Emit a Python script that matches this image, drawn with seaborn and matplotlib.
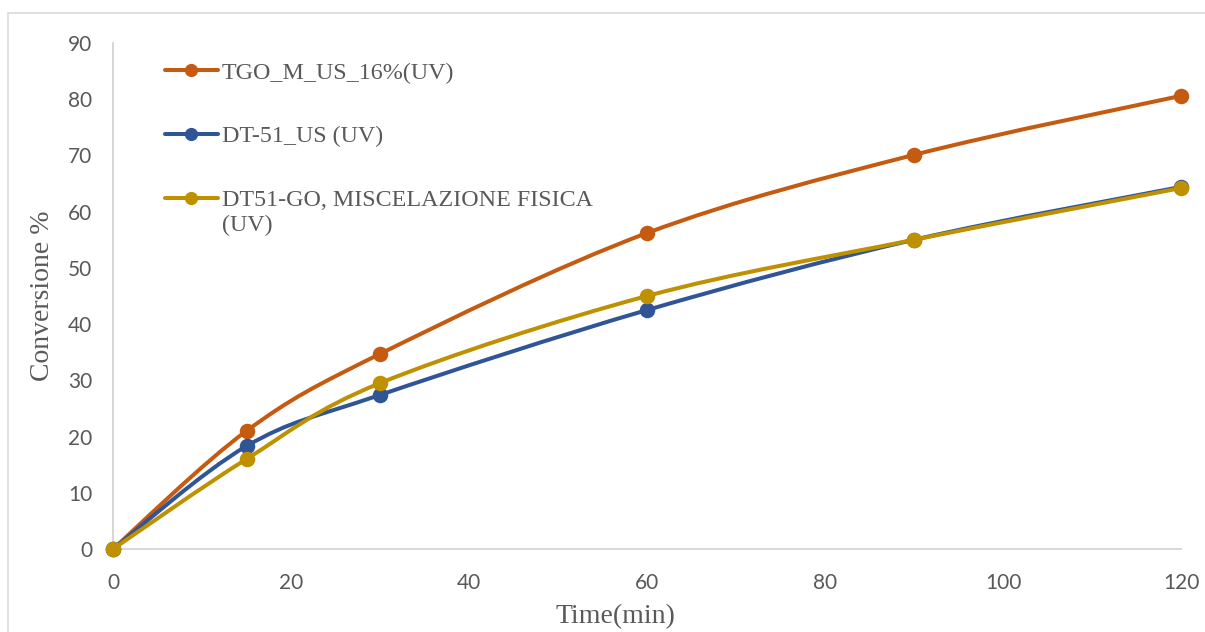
import numpy as np
import pandas as pd
import matplotlib
matplotlib.use("Agg")
import matplotlib.pyplot as plt
from matplotlib.path import Path
from matplotlib.patches import PathPatch, Rectangle
from matplotlib.lines import Line2D
import seaborn as sns

# Conversion (%) over irradiation time (min)
time_min = [0, 15, 30, 60, 90, 120]
tgo_m_us = [0, 21.0, 34.7, 56.2, 70.1, 80.6]
dt51_us = [0, 18.3, 27.4, 42.5, 55.0, 64.4]
dt51_go_mix = [0, 16.0, 29.5, 45.0, 55.0, 64.2]

series_names = ["TGO_M_US_16%(UV)", "DT-51_US (UV)", "DT51-GO, MISCELAZIONE FISICA"]
series_values = [tgo_m_us, dt51_us, dt51_go_mix]
colors = ["#C55A11", "#2F5597", "#BF9000"]

x_ticks = [0, 20, 40, 60, 80, 100, 120]
y_ticks = [0, 10, 20, 30, 40, 50, 60, 70, 80, 90]

df = pd.DataFrame({
    "time": np.tile(time_min, len(series_names)),
    "conv": np.concatenate(series_values),
    "series": np.repeat(series_names, len(time_min)),
})

sns.set_theme(style="white")
plt.rcParams["font.family"] = ["Liberation Serif", "DejaVu Serif"]

W, H = 1205, 632
fig = plt.figure(figsize=(W / 100, H / 100), dpi=100)
ax = fig.add_axes([113 / W, 1 - 549 / H, (1181 - 113) / W, (549 - 43) / H])

# light outer frame of the chart area
fig.patches.append(Rectangle((8 / W, -0.1), 1.2, 1.1 - 13 / H, transform=fig.transFigure,
                             fill=False, edgecolor="#D9D9D9", lw=1.2, zorder=0))


def smooth_path(xs, ys):
    """Cubic Bezier path through the points (Catmull-Rom style smoothing)."""
    pts = np.column_stack([xs, ys]).astype(float)
    n = len(pts)
    verts = [pts[0]]
    codes = [Path.MOVETO]
    for i in range(n - 1):
        p0 = pts[i - 1] if i > 0 else pts[i]
        p1, p2 = pts[i], pts[i + 1]
        p3 = pts[i + 2] if i + 2 < n else pts[i + 1]
        c1 = p1 + (p2 - p0) / 6.0
        c2 = p2 - (p3 - p1) / 6.0
        verts += [c1, c2, p2]
        codes += [Path.CURVE4] * 3
    return Path(verts, codes)


for k, (name, col) in enumerate(zip(series_names, colors)):
    sub = df[df["series"] == name]
    ax.add_patch(PathPatch(smooth_path(sub["time"].values, sub["conv"].values),
                           fill=False, edgecolor=col, lw=2.9, capstyle="round",
                           joinstyle="round", zorder=2 + k, clip_on=False))
    sns.scatterplot(data=sub, x="time", y="conv", color=col, s=125, linewidth=0,
                    ax=ax, zorder=2.5 + k, clip_on=False, legend=False)

ax.set_xlim(0, 120)
ax.set_ylim(0, 90)
ax.set_xticks(x_ticks)
ax.set_yticks(y_ticks)
tick_font = dict(family="Lato", size=15, color="#595959")
ax.set_xticklabels([str(v) for v in x_ticks], **tick_font)
ax.set_yticklabels([str(v) for v in y_ticks], **tick_font)
ax.tick_params(axis="x", length=0, pad=17)
ax.tick_params(axis="y", length=0, pad=15)

for side in ["top", "right"]:
    ax.spines[side].set_visible(False)
for side in ["left", "bottom"]:
    ax.spines[side].set_color("#D0D0D0")
    ax.spines[side].set_linewidth(1.2)

ax.set_xlabel("")
ax.set_ylabel("")
fig.text(615 / W, 1 - 617 / H, "Time(min)", ha="center", va="center",
         fontsize=20, color="#595959")
fig.text(43 / W, 1 - 296 / H, "Conversione %", ha="center", va="center",
         rotation=90, fontsize=20, color="#595959")

handles = [Line2D([], [], color=c, lw=2.9, marker="o", markersize=9.5, markeredgewidth=0)
           for c in colors]
leg = ax.legend(handles, series_names, loc="upper left",
                bbox_to_anchor=(165 / W, 1 - 62 / H), bbox_transform=fig.transFigure,
                frameon=False, fontsize=17.3, handlelength=2.2, handletextpad=0.17,
                labelspacing=1.74, borderpad=0, borderaxespad=0)
for t in leg.get_texts():
    t.set_color("#595959")

# wrapped continuation of the third legend label
ax.annotate("(UV)", xy=(0, 0), xycoords=leg.get_texts()[2], xytext=(0, -4),
            textcoords="offset pixels", ha="left", va="top", fontsize=17.3,
            color="#595959", zorder=10)

fig.savefig("out.png", dpi=100)
